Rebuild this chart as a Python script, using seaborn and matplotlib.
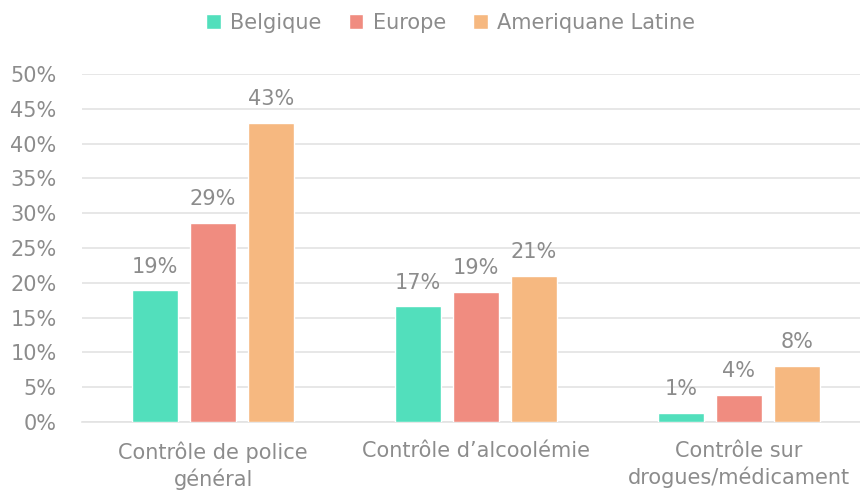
import pandas as pd
import matplotlib.pyplot as plt
import seaborn as sns

# Chart data
categories = ["Contrôle de police\ngénéral", "Contrôle d’alcoolémie", "Contrôle sur\ndrogues/médicament"]
series = ["Belgique", "Europe", "Ameriquane Latine"]
belgique = [18.9, 16.6, 1.3]
europe = [28.6, 18.7, 3.9]
amerique_latine = [43.0, 21.0, 8.0]
colors = ["#52DFBC", "#F08C80", "#F6B880"]

df = pd.DataFrame({
    "Catégorie": categories * 3,
    "Région": [s for s in series for _ in categories],
    "Valeur": belgique + europe + amerique_latine,
})

sns.set_theme(style="white")
plt.rcParams["font.family"] = ["DejaVu Sans"]
text_col = "#8C8C8C"

fig = plt.figure(figsize=(8.6, 4.93), dpi=100)
ax = fig.add_axes([0.095, 0.144, 0.917, 0.706])

sns.barplot(data=df, x="Catégorie", y="Valeur", hue="Région", palette=colors,
            width=0.66, gap=0.21, saturation=1, ax=ax, legend=True, zorder=3)

# Value labels above bars
for cont in ax.containers:
    ax.bar_label(cont, labels=[f"{v:.0f}%" for v in cont.datavalues],
                 padding=10, fontsize=15, color=text_col)

ax.set_ylim(0, 50)
ax.set_xlim(-0.5, 2.5)
ax.set_yticks(range(0, 51, 5))
ax.set_yticklabels([f"{t}%" for t in range(0, 51, 5)])
ax.yaxis.grid(True, color="#E3E3E3", linewidth=1.2, zorder=0)
ax.tick_params(axis="both", length=0, labelsize=15, labelcolor=text_col)
ax.tick_params(axis="y", pad=18)
ax.tick_params(axis="x", pad=14)
for lbl in ax.get_xticklabels():
    lbl.set_linespacing(1.3)
ax.set_xlabel("")
ax.set_ylabel("")
for side in ["top", "right", "left"]:
    ax.spines[side].set_visible(False)
ax.spines["bottom"].set_color("#E3E3E3")
ax.spines["bottom"].set_linewidth(1.2)

handles, labels = ax.get_legend_handles_labels()
ax.legend(handles, labels, loc="upper center", bbox_to_anchor=(0.468, 1.23),
          ncol=3, frameon=False, fontsize=15, labelcolor=text_col,
          handlelength=0.7, handleheight=0.7, handletextpad=0.45, columnspacing=1.3)

fig.savefig("out.png", dpi=100)
